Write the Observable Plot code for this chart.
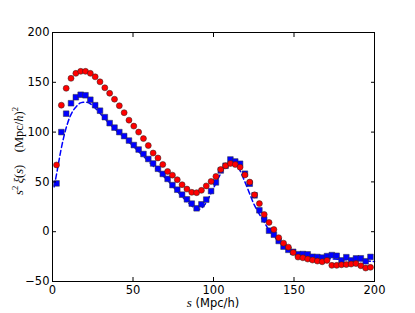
<!DOCTYPE html>
<html><head><meta charset="utf-8">
<script src="https://cdn.jsdelivr.net/npm/d3@7"></script>
<script src="https://cdn.jsdelivr.net/npm/@observablehq/plot@0.6"></script>
<style>
html,body{margin:0;padding:0;background:#fff;}
</style>
</head><body><div id="chart"></div>
<script>
// bin centres s (Mpc/h)
const sBins = [2.5,5.5,8.5,11.5,14.5,17.5,20.5,23.5,26.5,29.5,32.5,35.5,38.5,41.5,44.5,47.5,50.5,53.5,56.5,59.5,
  62.5,65.5,68.5,71.5,74.5,77.5,80.5,83.5,86.5,89.5,92.5,95.5,98.5,101.5,104.5,107.5,110.5,113.5,116.5,119.5,
  122.5,125.5,128.5,131.5,134.5,137.5,140.5,143.5,146.5,149.5,152.5,155.5,158.5,161.5,164.5,167.5,170.5,173.5,
  176.5,179.5,182.5,185.5,188.5,191.5,194.5,197.5];
// red circles: s^2 xi(s)
const xiRed = [67,127,144,154,159,161,161,159,155.5,150.5,144.5,139,133,126.5,119.5,112,106,100,93.5,86.5,
  79,74,67.5,60.5,56.8,52.2,47.2,42.8,39.5,39.2,41.5,46,50.5,55.5,62.5,66.2,68.5,67.5,64.8,57,
  49.8,37,28.2,17.3,9.3,2.2,-6,-11.5,-15.5,-21,-25.5,-26.2,-27.5,-28.5,-29.5,-30.2,-28.8,-33.8,
  -33.8,-33.2,-33,-32.5,-32,-34.2,-36.5,-35.8];
// blue squares: s^2 xi(s)
const xiBlue = [48.5,100,118.5,129,135,137.5,137,132.5,127,121.5,115,109,104.5,100,96,91.5,87,82.5,78,73,
  68.5,63.2,58,53,46.8,42.2,37.2,32.5,28.2,23.5,27.5,32.2,40.8,49.5,61.5,66.2,72.5,70.5,68.2,58.2,
  48.2,36.5,21.5,12.3,1,-3,-9.3,-15,-18.2,-20.2,-22.6,-22.4,-22.7,-25.2,-25.4,-26,-24.5,-23.5,
  -24.2,-28.8,-25.6,-28.8,-26.8,-26.7,-29.7,-25.3];
// dashed model curve
const modelS = [1,3,5,7,9,11,13,15,17,19,21,23,26,30,35,40,45,50,55,60,65,70,75,80,85,88,90,92,95,98,
  101,104,107,110,112,114,116,119,122,125,128,131,134,137,140,145,150,155,160,170,180,190,200];
const modelXi = [45,62,80,95,107,116,122,126,129,130,130,129,125,118,109,101,94,86,78,70,62,54,45,36,28,24,22.5,23,28,37,
  47,57,65,69,70,68,63,52,40,28,19,11,3,-3,-9,-16,-21,-24,-26,-27,-28,-29,-30];
const xTicks = [0,50,100,150,200];
const yTicks = [-50,0,50,100,150,200];

const red = sBins.map((s, i) => ({s, xi: xiRed[i]}));
const blue = sBins.map((s, i) => ({s, xi: xiBlue[i]}));
const model = modelS.map((s, i) => ({s, xi: modelXi[i]}));
const fmt = d => d < 0 ? "\u2212" + Math.abs(d) : String(d);
const blank = () => "";

const plot = Plot.plot({
  width: 415, height: 313,
  marginLeft: 52, marginRight: 41, marginTop: 32, marginBottom: 32,
  style: {fontFamily: "DejaVu Sans", fontSize: "11.5px", background: "white", color: "black"},
  x: {domain: [0, 200]},
  y: {domain: [-50, 200]},
  marks: [
    Plot.line(model, {x: "s", y: "xi", stroke: "#0000ff", strokeWidth: 1.5, strokeDasharray: "5,3", curve: "catmull-rom"}),
    Plot.dot(blue, {x: "s", y: "xi", symbol: "square", r: 3.2, fill: "#0000ff", stroke: "#333", strokeWidth: 0.5}),
    Plot.dot(red, {x: "s", y: "xi", r: 3, fill: "#ff0000", stroke: "#222", strokeWidth: 0.5}),
    Plot.axisX(xTicks, {anchor: "bottom", tickSize: 0, tickPadding: 4, tickFormat: fmt, label: null}),
    Plot.axisY(yTicks, {anchor: "left", tickSize: 0, tickPadding: 3, tickFormat: fmt, label: null}),
    Plot.axisX(xTicks, {anchor: "bottom", tickSize: -4, tickFormat: blank, label: null}),
    Plot.axisX(xTicks, {anchor: "top", tickSize: -4, tickFormat: blank, label: null}),
    Plot.axisY(yTicks, {anchor: "left", tickSize: -4, tickFormat: blank, label: null}),
    Plot.axisY(yTicks, {anchor: "right", tickSize: -4, tickFormat: blank, label: null}),
    Plot.frame({stroke: "black"})
  ]
});
document.getElementById("chart").appendChild(plot);

const svg = d3.select(plot);
// x label
const xl = svg.append("text")
  .attr("x", 213).attr("y", 307).attr("text-anchor", "middle")
  .attr("font-family", "DejaVu Sans").attr("font-size", "11.5px").attr("fill", "black");
xl.append("tspan").attr("font-family", "Liberation Serif").attr("font-style", "italic").attr("font-size", "13px").text("s");
xl.append("tspan").text(" (Mpc/h)");

// y label
const yl = svg.append("text")
  .attr("transform", "translate(23,151) rotate(-90)")
  .attr("text-anchor", "middle")
  .attr("font-family", "Liberation Serif").attr("font-size", "12.5px").attr("fill", "black");
yl.append("tspan").attr("font-style", "italic").text("s");
yl.append("tspan").attr("font-size", "8.5px").attr("dy", "-5").text("2");
yl.append("tspan").attr("dy", "5").attr("font-style", "italic").text("\u2009ξ");
yl.append("tspan").text("(");
yl.append("tspan").attr("font-style", "italic").text("s");
yl.append("tspan").text(")\u2002\u2002(Mpc/");
yl.append("tspan").attr("font-style", "italic").text("h");
yl.append("tspan").text(")");
yl.append("tspan").attr("font-size", "8.5px").attr("dy", "-5").text("2");
</script>
</body></html>
